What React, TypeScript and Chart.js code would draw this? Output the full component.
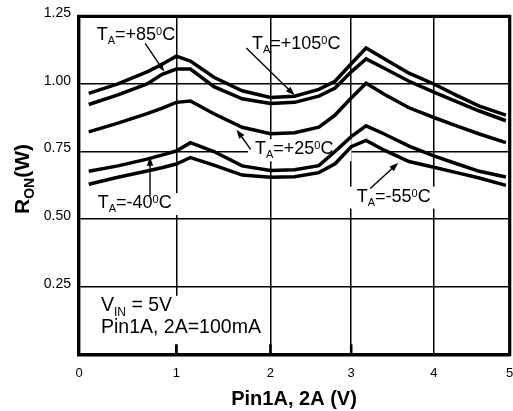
import React, { useEffect, useRef } from 'react';
import { Chart, registerables, LinearScale } from 'chart.js';

// ---------------- data ----------------
const vPin = [0.1, 0.4, 0.7, 0.85, 1.0, 1.15, 1.4, 1.7, 2.0, 2.3, 2.6, 2.8, 3.0, 3.18, 3.4, 3.7, 4.0, 4.3, 4.6, 4.95];
const ronP105 = [0.965, 1.0, 1.045, 1.072, 1.103, 1.085, 1.025, 0.975, 0.95, 0.955, 0.98, 1.01, 1.075, 1.133, 1.093, 1.04, 1.0, 0.958, 0.918, 0.885];
const ronP85 = [0.924, 0.96, 1.0, 1.035, 1.055, 1.055, 0.99, 0.945, 0.928, 0.932, 0.955, 0.985, 1.045, 1.093, 1.058, 1.01, 0.97, 0.935, 0.9, 0.864];
const ronP25 = [0.823, 0.855, 0.89, 0.91, 0.932, 0.937, 0.89, 0.84, 0.816, 0.82, 0.84, 0.885, 0.948, 1.003, 0.962, 0.912, 0.876, 0.845, 0.815, 0.783];
const ronM40 = [0.677, 0.697, 0.722, 0.737, 0.752, 0.783, 0.75, 0.697, 0.68, 0.683, 0.698, 0.75, 0.805, 0.845, 0.815, 0.77, 0.734, 0.705, 0.677, 0.656];
const ronM55 = [0.629, 0.655, 0.678, 0.69, 0.704, 0.728, 0.7, 0.663, 0.655, 0.657, 0.672, 0.705, 0.768, 0.791, 0.755, 0.713, 0.692, 0.672, 0.652, 0.625];
const seriesNames = ['+105', '+85', '+25', '-40', '-55'];

const xTicks = [0, 1, 2, 3, 4, 5];
const yTickLabels = ['0.25', '0.50', '0.75', '1.00', '1.25'];
const innerTickValues = [1, 2, 3];

// temperature labels (data units) and their arrows
const labelTemps = ['+85', '+105', '+25', '-40', '-55'];
const labelX = [0.182, 1.804, 1.836, 0.192, 3.067];
const labelY = [1.161, 1.13, 0.74, 0.541, 0.565];
const arrowFromX = [0.68, 1.744, 1.79, 0.73, 3.23];
const arrowFromY = [1.15, 1.133, 0.758, 0.586, 0.613];
const arrowToX = [0.876, 2.3, 1.64, 0.73, 3.57];
const arrowToY = [1.046, 0.958, 0.831, 0.731, 0.708];

const conditionX = 0.226;
const conditionY = [0.161, 0.077];

// ---------------- styles ----------------
const FONT = '"Liberation Sans", Arial, Helvetica, sans-serif';
// relative positions of the x ticks 0..5 across the plot width (non-uniform grid of the original)
const xStops = [0, 0.2259, 0.4444, 0.632, 0.8238, 1];
const labelBg = [false, false, true, true, true];
const labelPadL = [2, 2, 7, 2, 7];
const labelPadR = [2, 2, 18, 7, 6];

class WarpedScale extends LinearScale {
  static id = 'warped';
  static defaults = LinearScale.defaults;
  warp(v: number) {
    const n = xTicks.length - 1;
    let i = 0;
    while (i < n - 1 && v > xTicks[i + 1]) i++;
    const t = (v - xTicks[i]) / (xTicks[i + 1] - xTicks[i]);
    return xStops[i] + t * (xStops[i + 1] - xStops[i]);
  }
  getPixelForValue(value: any) {
    if (value === null || value === undefined) return NaN;
    return this.getPixelForDecimal(this.warp(value));
  }
  getValueForPixel(pixel: number) {
    const d = this.getDecimalForPixel(pixel);
    const n = xTicks.length - 1;
    let i = 0;
    while (i < n - 1 && d > xStops[i + 1]) i++;
    const t = (d - xStops[i]) / (xStops[i + 1] - xStops[i]);
    return xTicks[i] + t * (xTicks[i + 1] - xTicks[i]);
  }
}

Chart.register(...registerables, WarpedScale);

type Part = { t: string; k?: 'sub' | 'sup' };

function richWidth(ctx: CanvasRenderingContext2D, parts: Part[], size: number, small: number, weight: string) {
  let w = 0;
  for (const p of parts) {
    ctx.font = `${weight} ${p.k ? small : size}px ${FONT}`;
    w += ctx.measureText(p.t).width;
  }
  return w;
}

function drawRich(ctx: CanvasRenderingContext2D, parts: Part[], x: number, y: number, size: number, small: number, weight: string, subDy: number, supDy: number) {
  ctx.textAlign = 'left';
  ctx.textBaseline = 'alphabetic';
  let cx = x;
  for (const p of parts) {
    ctx.font = `${weight} ${p.k ? small : size}px ${FONT}`;
    const dy = p.k === 'sub' ? subDy : p.k === 'sup' ? supDy : 0;
    ctx.fillText(p.t, cx, y + dy);
    cx += ctx.measureText(p.t).width;
  }
  return cx;
}

function arrow(ctx: CanvasRenderingContext2D, x1: number, y1: number, x2: number, y2: number) {
  const a = Math.atan2(y2 - y1, x2 - x1);
  const L = 9, W = 3.2;
  const c = Math.cos(a), s = Math.sin(a);
  ctx.beginPath();
  ctx.moveTo(x1, y1);
  ctx.lineTo(x2 - L * 0.8 * c, y2 - L * 0.8 * s);
  ctx.stroke();
  ctx.beginPath();
  ctx.moveTo(x2, y2);
  ctx.lineTo(x2 - L * c + W * s, y2 - L * s - W * c);
  ctx.lineTo(x2 - L * c - W * s, y2 - L * s + W * c);
  ctx.closePath();
  ctx.fill();
}

const annotPlugin = {
  id: 'annot',
  beforeDatasetsDraw(chart: any) {
    const { ctx, chartArea: ca } = chart;
    const x = chart.scales.x, y = chart.scales.y;
    ctx.save();
    ctx.fillStyle = '#000';
    ctx.strokeStyle = '#000';
    // temperature labels
    labelTemps.forEach((tmp, i) => {
      const parts: Part[] = [{ t: 'T' }, { t: 'A', k: 'sub' }, { t: '=' + tmp }, { t: '0', k: 'sup' }, { t: 'C' }];
      const px = x.getPixelForValue(labelX[i]);
      const py = y.getPixelForValue(labelY[i]);
      const w = richWidth(ctx, parts, 18, 11, 'normal');
      if (labelBg[i]) {
        ctx.fillStyle = '#fff';
        ctx.fillRect(px - labelPadL[i], py - 15, w + labelPadL[i] + labelPadR[i], 22);
        ctx.fillStyle = '#000';
      }
      drawRich(ctx, parts, px, py, 18, 11, 'normal', 4, -5);
      ctx.lineWidth = 1.4;
      arrow(ctx, x.getPixelForValue(arrowFromX[i]), y.getPixelForValue(arrowFromY[i]), x.getPixelForValue(arrowToX[i]), y.getPixelForValue(arrowToY[i]));
    });
    // test condition text
    const cx = x.getPixelForValue(conditionX);
    const cy1 = y.getPixelForValue(conditionY[0]);
    const cy2 = y.getPixelForValue(conditionY[1]);
    const line1: Part[] = [{ t: 'V' }, { t: 'IN', k: 'sub' }, { t: ' = 5V' }];
    const line2: Part[] = [{ t: 'Pin1A, 2A=100mA' }];
    const w2 = richWidth(ctx, line2, 19.5, 12, 'normal');
    ctx.fillStyle = '#fff';
    ctx.fillRect(cx - 4, cy1 - 15, w2 + 7, cy2 - cy1 + 26);
    ctx.fillStyle = '#000';
    drawRich(ctx, line1, cx, cy1, 19.5, 12, 'normal', 5, -6);
    drawRich(ctx, line2, cx, cy2, 19.5, 12, 'normal', 5, -6);
    // inner tick marks on the bottom axis
    ctx.lineWidth = 2.6;
    innerTickValues.forEach((v) => {
      const px = x.getPixelForValue(v);
      ctx.beginPath();
      ctx.moveTo(px, ca.bottom);
      ctx.lineTo(px, ca.bottom - 10);
      ctx.stroke();
    });
    ctx.restore();
  },
  afterDatasetsDraw(chart: any) {
    const { ctx, chartArea: ca } = chart;
    const x = chart.scales.x;
    ctx.save();
    ctx.strokeStyle = '#000';
    ctx.fillStyle = '#000';
    // top and right frame
    ctx.lineWidth = 3.2;
    ctx.lineJoin = 'miter';
    ctx.beginPath();
    ctx.moveTo(ca.left - 1.7, ca.top);
    ctx.lineTo(ca.right, ca.top);
    ctx.lineTo(ca.right, ca.bottom + 1.7);
    ctx.stroke();
    // x tick labels
    ctx.font = `13px ${FONT}`;
    ctx.textAlign = 'center';
    ctx.textBaseline = 'alphabetic';
    xTicks.forEach((v) => {
      ctx.fillText(String(v), x.getPixelForValue(v), 377);
    });
    // x title
    ctx.font = `bold 20px ${FONT}`;
    ctx.fillText('Pin1A, 2A (V)', 294, 405);
    // y title (rotated)
    ctx.translate(28.5, 179);
    ctx.rotate(-Math.PI / 2);
    const yt: Part[] = [{ t: 'R' }, { t: 'ON', k: 'sub' }, { t: '(W)' }];
    const wy = richWidth(ctx, yt, 21, 14, 'bold');
    drawRich(ctx, yt, -wy / 2, 0, 21, 14, 'bold', 5, -6);
    ctx.restore();
  },
};

export default function App() {
  const ref = useRef<HTMLCanvasElement | null>(null);
  useEffect(() => {
    if (!ref.current) return;
    const allSeries = [ronP105, ronP85, ronP25, ronM40, ronM55];
    const chart = new Chart(ref.current, {
      type: 'line',
      data: {
        datasets: allSeries.map((s, i) => ({
          label: seriesNames[i],
          data: vPin.map((v, j) => ({ x: v, y: s[j] })),
          borderColor: '#000',
          backgroundColor: '#000',
          borderWidth: 3.5,
          pointRadius: 0,
          tension: 0,
          fill: false,
        })),
      },
      options: {
        animation: false,
        responsive: false,
        events: [],
        layout: { padding: { top: 10, right: 3.3, left: 0, bottom: 0 } },
        plugins: { legend: { display: false }, tooltip: { enabled: false }, title: { display: false } },
        scales: {
          x: {
            type: 'warped' as any,
            min: 0,
            max: 5,
            ticks: { display: false, stepSize: 1 },
            grid: { color: '#000', lineWidth: 1.5, drawTicks: false },
            border: { display: true, color: '#000', width: 3.4 },
            afterFit: (s: any) => { s.height = 56.7; },
          },
          y: {
            type: 'linear',
            min: 0,
            max: 1.25,
            ticks: {
              stepSize: 0.25,
              color: '#000',
              padding: 8,
              labelOffset: -3,
              font: { family: FONT, size: 14 },
              callback: (v: any) => {
                const idx = Math.round(Number(v) / 0.25) - 1;
                return idx >= 0 ? yTickLabels[idx] : '';
              },
            },
            grid: { color: '#000', lineWidth: 1.5, drawTicks: false },
            border: { display: true, color: '#000', width: 3.4 },
            afterFit: (s: any) => { s.width = 79; },
          },
        },
      },
      plugins: [annotPlugin],
    });
    return () => chart.destroy();
  }, []);
  return (
    <div style={{ position: 'absolute', left: 0, top: 0, width: 513, height: 411, background: '#fff' }}>
      <canvas ref={ref} width={513} height={411} style={{ display: 'block' }} />
    </div>
  );
}
